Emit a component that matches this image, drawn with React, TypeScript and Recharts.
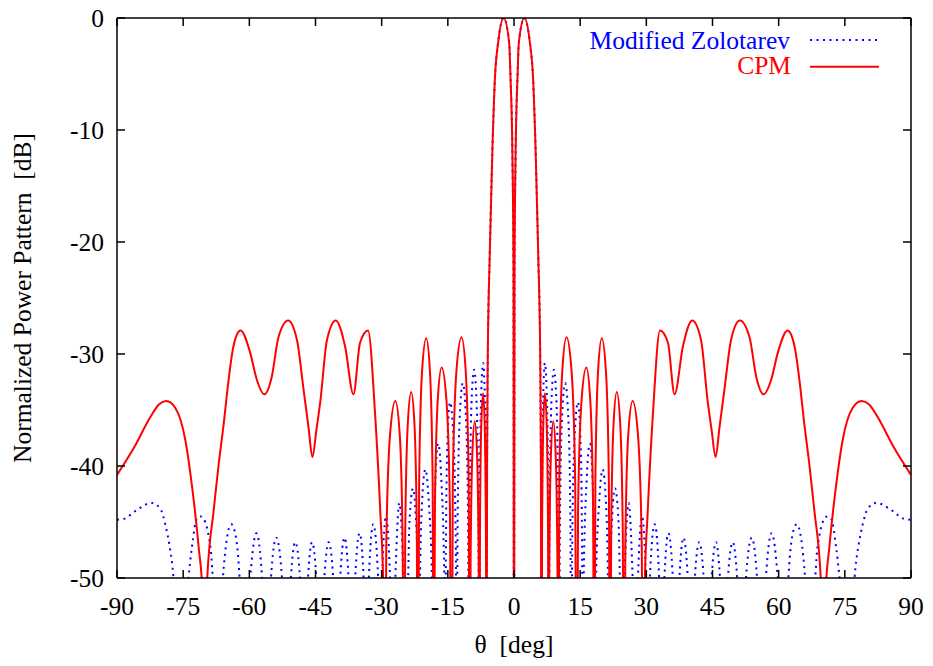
import React from 'react';
import { LineChart, Line, XAxis, YAxis, Legend, Label } from 'recharts';

const FONT = '"Liberation Serif", "Times New Roman", serif';
const FS = 25.5;

const xTicks = [-90, -75, -60, -45, -30, -15, 0, 15, 30, 45, 60, 75, 90];
const yTicks = [-50, -40, -30, -20, -10, 0];
const seriesNames = ['Modified Zolotarev', 'CPM'];
const xLabel = 'θ\u00a0\u00a0[deg]';
const yLabel = 'Normalized Power Pattern\u00a0\u00a0[dB]';

// CPM pattern, theta (deg) / normalized power (dB), left half
const cpmLeft: [number, number][] = [
  [-90, -40.8], [-86.2, -38.4], [-82.4, -35.6], [-80.5, -34.5], [-78.8, -34.2], [-76.8, -34.8],
  [-74.5, -37.7], [-73.0, -41.8], [-71.5, -47.2], [-70.6, -51.5], [-70.15, -65], [-69.6, -50.5],
  [-68.1, -44.0], [-67.0, -40.0], [-65.8, -36.2], [-64.7, -32.3], [-63.6, -29.3], [-62.0, -27.9],
  [-59.8, -29.9], [-58.3, -32.3], [-56.6, -33.6], [-54.9, -32.0], [-53.4, -28.5], [-51.2, -27.0],
  [-49.2, -28.75], [-47.7, -33.2], [-46.6, -36.5], [-45.7, -39.2], [-44.8, -36.8], [-43.9, -34.2],
  [-42.4, -28.75], [-40.4, -27.0], [-38.3, -29.3], [-36.4, -33.6], [-34.9, -29.0], [-33.1, -27.9],
  [-31.5, -35.3], [-30.3, -44.2], [-29.65, -50.5], [-29.3, -70],
  [-28.95, -46.8], [-28.1, -37.2], [-26.9, -34.2], [-25.9, -37.2], [-25.25, -46.8], [-24.9, -70],
  [-24.66, -46.0], [-24.1, -36.4], [-23.3, -33.4], [-22.55, -36.4], [-22.03, -46.0], [-21.8, -70],
  [-21.5, -41.2], [-20.85, -31.6], [-19.9, -28.6], [-19.05, -31.6], [-18.45, -41.2], [-18.2, -70],
  [-17.93, -43.8], [-17.3, -34.2], [-16.4, -31.2], [-15.3, -34.2], [-14.53, -43.8], [-14.2, -70],
  [-13.86, -41.1], [-13.05, -31.5], [-11.9, -28.5], [-10.95, -31.5], [-10.285, -41.1], [-10.0, -70],
  [-9.84, -48.6], [-9.45, -39.0], [-8.9, -36.0], [-8.37, -39.0], [-8.0, -48.6], [-7.85, -70],
  [-7.72, -46.1], [-7.43, -36.5], [-7.0, -33.5], [-6.63, -36.5], [-6.36, -46.1], [-6.25, -70],
  [-6.1, -40], [-5.95, -30.5], [-5.5, -21.2], [-4.9, -11.8], [-4.3, -5.2], [-3.6, -2.2],
  [-2.35, 0], [-1.1, -2.2], [-0.8, -5.2], [-0.35, -12.5], [-0.12, -22], [0, -70],
];

// CPM pattern, right half
const cpmRight: [number, number][] = [
  [0.12, -22], [0.35, -12.5], [0.8, -5.2], [1.1, -2.2], [2.35, 0], [3.6, -2.2], [4.3, -5.2],
  [4.9, -11.8], [5.5, -21.2], [5.95, -30.5], [6.1, -40], [6.25, -70],
  [6.36, -46.1], [6.63, -36.5], [7.0, -33.5], [7.43, -36.5], [7.72, -46.1], [7.85, -70],
  [8.0, -48.6], [8.37, -39.0], [8.9, -36.0], [9.45, -39.0], [9.84, -48.6], [10.0, -70],
  [10.285, -41.1], [10.95, -31.5], [11.9, -28.5], [13.05, -31.5], [13.86, -41.1], [14.2, -70],
  [14.53, -43.8], [15.3, -34.2], [16.4, -31.2], [17.3, -34.2], [17.93, -43.8], [18.2, -70],
  [18.45, -41.2], [19.05, -31.6], [19.9, -28.6], [20.85, -31.6], [21.5, -41.2], [21.8, -70],
  [22.03, -46.0], [22.55, -36.4], [23.3, -33.4], [24.1, -36.4], [24.66, -46.0], [24.9, -70],
  [25.25, -46.8], [25.9, -37.2], [26.9, -34.2], [28.1, -37.2], [28.95, -46.8], [29.3, -70],
  [29.65, -50.5], [30.3, -44.2], [31.5, -35.3], [33.1, -27.9], [34.9, -29.0], [36.4, -33.6],
  [38.3, -29.3], [40.4, -27.0], [42.4, -28.75], [43.9, -34.2], [44.8, -36.8], [45.7, -39.2],
  [46.6, -36.5], [47.7, -33.2], [49.2, -28.75], [51.2, -27.0], [53.4, -28.5], [54.9, -32.0],
  [56.6, -33.6], [58.3, -32.3], [59.8, -29.9], [62.0, -27.9], [63.6, -29.3], [64.7, -32.3],
  [65.8, -36.2], [67.0, -40.0], [68.1, -44.0], [69.6, -50.5], [70.15, -65], [70.6, -51.5],
  [71.5, -47.2], [73.0, -41.8], [74.5, -37.7], [76.8, -34.8], [78.8, -34.2], [80.5, -34.5],
  [82.4, -35.6], [86.2, -38.4], [90, -40.8],
];

// Modified Zolotarev pattern, left half
const zoloLeft: [number, number][] = [
  [-90, -44.8], [-88.3, -44.7], [-85.8, -44.0], [-82.1, -43.3], [-80.2, -43.8], [-79.0, -45.3],
  [-78.1, -47.1], [-77.4, -49.1], [-77.0, -51], [-75.6, -60],
  [-73.8, -50], [-73.0, -47.2], [-71.9, -44.7], [-71.0, -44.5], [-70.0, -45.0], [-69.2, -46.3],
  [-68.6, -48.1], [-68.3, -50], [-67.2, -58],
  [-66.0, -50], [-65.1, -46.5], [-64.1, -45.2], [-63.2, -46.0], [-62.6, -47.8], [-62.2, -50], [-61.0, -58],
  [-59.8, -50], [-58.4, -46.0], [-57.1, -50], [-56.1, -58],
  [-55.1, -50], [-53.9, -46.4], [-52.6, -50], [-51.6, -58],
  [-50.6, -50], [-49.6, -46.8], [-48.5, -50], [-47.6, -58],
  [-46.7, -50], [-45.8, -46.8], [-44.8, -50], [-43.9, -58],
  [-43.0, -50], [-42.0, -46.8], [-41.0, -50], [-40.2, -58],
  [-39.4, -50], [-38.4, -46.4], [-37.5, -50], [-36.7, -58],
  [-36.0, -50], [-35.0, -46.0], [-34.1, -50], [-33.5, -58],
  [-32.9, -50], [-31.9, -45.2], [-30.8, -50], [-30.35, -58],
  [-29.9, -50], [-29.0, -44.5], [-28.1, -50], [-27.5, -58],
  [-26.9, -50], [-26.0, -43.3], [-25.05, -50], [-24.5, -58],
  [-24.0, -50], [-23.7, -45.0], [-22.9, -42.0], [-22.2, -45.0], [-21.8, -50], [-21.55, -60],
  [-21.3, -50], [-20.85, -43.3], [-20.1, -40.3], [-19.3, -43.3], [-18.6, -50], [-18.4, -60],
  [-18.2, -50], [-17.8, -41.0], [-17.2, -38.0], [-16.5, -41.0], [-15.8, -50], [-15.6, -62],
  [-15.43, -46.9], [-15.05, -37.3], [-14.5, -34.3], [-13.75, -37.3], [-13.2, -46.9], [-13.0, -65],
  [-12.79, -45.2], [-12.3, -35.6], [-11.6, -32.6], [-10.9, -35.6], [-10.41, -45.2], [-10.2, -65],
  [-10.03, -44.0], [-9.63, -34.4], [-9.05, -31.4], [-8.48, -34.4], [-8.07, -44.0], [-7.9, -65],
  [-7.77, -43.4], [-7.45, -33.8], [-7.0, -30.8], [-6.62, -33.8], [-6.36, -43.4], [-6.25, -70],
  [-6.1, -40], [-5.95, -30.5], [-5.5, -21.2], [-4.9, -11.8], [-4.3, -5.2], [-3.6, -2.2],
  [-2.35, 0], [-1.1, -2.2], [-0.8, -5.2], [-0.35, -12.5], [-0.12, -22], [0, -70],
];

// Modified Zolotarev pattern, right half
const zoloRight: [number, number][] = [
  [0.12, -22], [0.35, -12.5], [0.8, -5.2], [1.1, -2.2], [2.35, 0], [3.6, -2.2], [4.3, -5.2],
  [4.9, -11.8], [5.5, -21.2], [5.95, -30.5], [6.1, -40], [6.25, -70],
  [6.36, -43.4], [6.62, -33.8], [7.0, -30.8], [7.45, -33.8], [7.77, -43.4], [7.9, -65],
  [8.07, -44.0], [8.48, -34.4], [9.05, -31.4], [9.63, -34.4], [10.03, -44.0], [10.2, -65],
  [10.41, -45.2], [10.9, -35.6], [11.6, -32.6], [12.3, -35.6], [12.79, -45.2], [13.0, -65],
  [13.2, -46.9], [13.75, -37.3], [14.5, -34.3], [15.05, -37.3], [15.43, -46.9], [15.6, -62],
  [15.8, -50], [16.5, -41.0], [17.2, -38.0], [17.8, -41.0], [18.2, -50], [18.4, -60],
  [18.6, -50], [19.3, -43.3], [20.1, -40.3], [20.85, -43.3], [21.3, -50], [21.55, -60],
  [21.8, -50], [22.2, -45.0], [22.9, -42.0], [23.7, -45.0], [24.0, -50], [24.5, -58],
  [25.05, -50], [26.0, -43.3], [26.9, -50], [27.5, -58],
  [28.1, -50], [29.0, -44.5], [29.9, -50], [30.35, -58],
  [30.8, -50], [31.9, -45.2], [32.9, -50], [33.5, -58],
  [34.1, -50], [35.0, -46.0], [36.0, -50], [36.7, -58],
  [37.5, -50], [38.4, -46.4], [39.4, -50], [40.2, -58],
  [41.0, -50], [42.0, -46.8], [43.0, -50], [43.9, -58],
  [44.8, -50], [45.8, -46.8], [46.7, -50], [47.6, -58],
  [48.5, -50], [49.6, -46.8], [50.6, -50], [51.6, -58],
  [52.6, -50], [53.9, -46.4], [55.1, -50], [56.1, -58],
  [57.1, -50], [58.4, -46.0], [59.8, -50], [61.0, -58],
  [62.2, -50], [62.6, -47.8], [63.2, -46.0], [64.1, -45.2], [65.1, -46.5], [66.0, -50], [67.2, -58],
  [68.3, -50], [68.6, -48.1], [69.2, -46.3], [70.0, -45.0], [71.0, -44.5], [71.9, -44.7],
  [73.0, -47.2], [73.8, -50], [75.6, -60],
  [77.0, -51], [77.4, -49.1], [78.1, -47.1], [79.0, -45.3], [80.2, -43.8], [82.1, -43.3],
  [85.8, -44.0], [88.3, -44.7], [90, -44.8],
];

const toRows = (pts: [number, number][]) => pts.map(([theta, db]) => ({ theta, db }));
const cpmData = toRows([...cpmLeft, ...cpmRight]);
const zoloData = toRows([...zoloLeft, ...zoloRight]);

const AXIS = { stroke: '#000', strokeWidth: 1.5 };
const TICK = { fill: '#000', fontSize: FS, fontFamily: FONT };
const blank = () => '';

const renderLegend = () => (
  <svg width={340} height={64} style={{ display: 'block', overflow: 'visible' }}>
    <text x={242} y={29} textAnchor="end" fill="#0000ff" fontFamily={FONT} fontSize={FS}>
      {seriesNames[0]}
    </text>
    <line x1={262} x2={331} y1={20} y2={20} stroke="#0000ff" strokeWidth={2} strokeDasharray="2 4.5" />
    <text x={243} y={54} textAnchor="end" fill="#ff0000" fontFamily={FONT} fontSize={FS}>
      {seriesNames[1]}
    </text>
    <line x1={262} x2={331} y1={46.7} y2={46.7} stroke="#ff0000" strokeWidth={2} />
  </svg>
);

export default function App() {
  return (
    <LineChart width={917} height={650} margin={{ top: 0, right: 0, bottom: 0, left: 0 }}>
      <XAxis
        xAxisId="b"
        dataKey="theta"
        type="number"
        domain={[-90, 90]}
        ticks={xTicks}
        interval={0}
        allowDataOverflow
        height={80}
        tickSize={-8}
        tickMargin={27.25}
        tick={TICK}
        axisLine={AXIS}
        tickLine={AXIS}
      >
        <Label value={xLabel} position="insideBottom" offset={5} fill="#000" fontSize={FS} fontFamily={FONT} />
      </XAxis>
      <XAxis
        xAxisId="t"
        orientation="top"
        dataKey="theta"
        type="number"
        domain={[-90, 90]}
        ticks={xTicks}
        interval={0}
        allowDataOverflow
        height={10}
        tickSize={-8}
        tickFormatter={blank}
        axisLine={AXIS}
        tickLine={AXIS}
      />
      <YAxis
        yAxisId="l"
        type="number"
        domain={[-50, 0]}
        ticks={yTicks}
        interval={0}
        allowDataOverflow
        width={109}
        tickSize={-8}
        tickMargin={21}
        tick={TICK}
        axisLine={AXIS}
        tickLine={AXIS}
      >
        <Label
          value={yLabel}
          angle={-90}
          position="insideLeft"
          offset={14}
          fill="#000"
          fontSize={FS}
          fontFamily={FONT}
          style={{ textAnchor: 'middle' }}
        />
      </YAxis>
      <YAxis
        yAxisId="r"
        orientation="right"
        type="number"
        domain={[-50, 0]}
        ticks={yTicks}
        interval={0}
        allowDataOverflow
        width={14}
        tickSize={-8}
        tickFormatter={blank}
        axisLine={AXIS}
        tickLine={AXIS}
      />
      <Legend
        layout="vertical"
        align="center"
        verticalAlign="middle"
        content={renderLegend}
        wrapperStyle={{ left: 540, top: 12, width: 340, height: 64 }}
      />
      <Line
        name={seriesNames[0]}
        data={zoloData}
        dataKey="db"
        xAxisId="b"
        yAxisId="l"
        type="monotone"
        stroke="#0000ff"
        strokeWidth={2}
        strokeDasharray="2 4.5"
        dot={false}
        activeDot={false}
        isAnimationActive={false}
      />
      <Line
        name={seriesNames[1]}
        data={cpmData}
        dataKey="db"
        xAxisId="b"
        yAxisId="l"
        type="monotone"
        stroke="#ff0000"
        strokeWidth={2}
        dot={false}
        activeDot={false}
        isAnimationActive={false}
      />
    </LineChart>
  );
}
